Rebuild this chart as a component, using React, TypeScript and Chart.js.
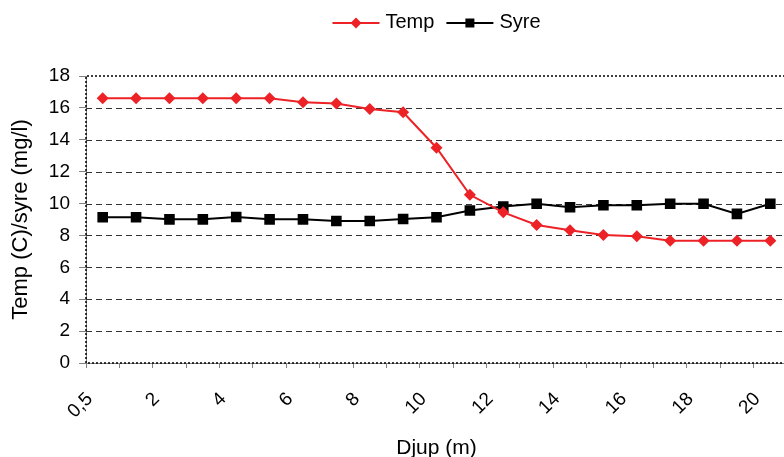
import React, { useEffect, useRef } from 'react';
import { Chart, registerables } from 'chart.js';

Chart.register(...registerables);

const depths = ['0,5', '1', '2', '3', '4', '5', '6', '7', '8', '9', '10', '11', '12', '13', '14', '15', '16', '17', '18', '19', '20'];
const temp = [16.6, 16.6, 16.6, 16.6, 16.6, 16.6, 16.35, 16.27, 15.93, 15.73, 13.5, 10.55, 9.45, 8.66, 8.32, 8.03, 7.95, 7.67, 7.67, 7.67, 7.67];
const syre = [9.14, 9.14, 9.01, 9.01, 9.16, 9.01, 9.01, 8.91, 8.91, 9.03, 9.14, 9.56, 9.81, 9.99, 9.77, 9.89, 9.89, 9.99, 9.99, 9.35, 9.99];

const FONT = "'Liberation Sans', Arial, sans-serif";
const RED = '#ED2227';
const BLACK = '#000000';

const framePlugin = {
  id: 'frame',
  beforeDatasetsDraw(chart: any) {
    const { ctx, chartArea } = chart;
    const y = chart.scales.y;
    const { left, right, top, bottom } = chartArea;
    ctx.save();
    ctx.lineWidth = 1;
    ctx.strokeStyle = '#333';
    ctx.setLineDash([6, 4]);
    y.ticks.forEach((t: any, i: number) => {
      if (i === 0 || i === y.ticks.length - 1) return;
      const py = Math.round(y.getPixelForValue(t.value)) + 0.5;
      ctx.beginPath();
      ctx.moveTo(left, py);
      ctx.lineTo(right, py);
      ctx.stroke();
    });
    ctx.strokeStyle = '#000';
    ctx.lineWidth = 1.5;
    ctx.setLineDash([2, 2]);
    ctx.beginPath();
    ctx.moveTo(left, bottom);
    ctx.lineTo(left, top);
    ctx.lineTo(right, top);
    ctx.lineTo(right, bottom);
    ctx.lineTo(left, bottom);
    ctx.stroke();
    ctx.restore();
  },
};

const legendPlugin = {
  id: 'customLegend',
  afterDraw(chart: any) {
    const { ctx } = chart;
    const items = chart.data.datasets.map((d: any) => ({
      label: d.label,
      color: d.borderColor,
      style: d.pointStyle,
    }));
    ctx.save();
    ctx.font = `20px ${FONT}`;
    ctx.textBaseline = 'middle';
    const lineW = 47;
    const gap = 6;
    const itemGap = 12;
    const widths = items.map((it: any) => lineW + gap + ctx.measureText(it.label).width);
    const total = widths.reduce((a: number, b: number) => a + b, 0) + itemGap * (items.length - 1);
    let x = 436.5 - total / 2;
    const cy = 23;
    items.forEach((it: any, i: number) => {
      ctx.strokeStyle = it.color;
      ctx.fillStyle = it.color;
      ctx.lineWidth = 2;
      ctx.setLineDash([]);
      ctx.beginPath();
      ctx.moveTo(x, cy);
      ctx.lineTo(x + lineW, cy);
      ctx.stroke();
      const mx = x + lineW / 2;
      ctx.beginPath();
      if (it.style === 'rectRot') {
        const r = 5.5;
        ctx.moveTo(mx, cy - r);
        ctx.lineTo(mx + r, cy);
        ctx.lineTo(mx, cy + r);
        ctx.lineTo(mx - r, cy);
        ctx.closePath();
      } else {
        ctx.rect(mx - 4.5, cy - 4.5, 9, 9);
      }
      ctx.fill();
      ctx.fillStyle = '#000';
      ctx.fillText(it.label, x + lineW + gap, cy - 1);
      x += widths[i] + itemGap;
    });
    ctx.restore();
  },
};

export default function App() {
  const ref = useRef<HTMLCanvasElement>(null);
  useEffect(() => {
    if (!ref.current) return;
    const chart = new Chart(ref.current, {
      type: 'line',
      data: {
        labels: depths,
        datasets: [
          {
            label: 'Temp',
            data: temp,
            borderColor: RED,
            backgroundColor: RED,
            borderWidth: 2,
            pointStyle: 'rectRot',
            pointRadius: 6,
            pointBorderWidth: 0,
            tension: 0,
          },
          {
            label: 'Syre',
            data: syre,
            borderColor: BLACK,
            backgroundColor: BLACK,
            borderWidth: 2,
            pointStyle: 'rect',
            pointRadius: 7.5,
            pointBorderWidth: 0,
            tension: 0,
          },
        ],
      },
      options: {
        animation: false,
        responsive: false,
        devicePixelRatio: 1,
        layout: { autoPadding: false, padding: { top: 76, right: 3, left: 0, bottom: 0 } },
        plugins: {
          legend: { display: false },
          tooltip: { enabled: false },
        },
        scales: {
          x: {
            type: 'category',
            offset: true,
            grid: {
              offset: true,
              drawOnChartArea: false,
              drawTicks: true,
              tickLength: 5,
              tickColor: '#808080',
            },
            border: { color: '#808080', width: 1 },
            ticks: {
              autoSkip: false,
              maxRotation: 45,
              minRotation: 45,
              padding: 20,
              labelOffset: -13,
              color: '#000',
              font: { family: FONT, size: 19 },
              callback: (_v: any, i: number) => (i % 2 === 0 ? depths[i] : ''),
            },
            title: {
              display: true,
              text: 'Djup (m)',
              color: '#000',
              font: { family: FONT, size: 21 },
              padding: { top: 0, bottom: -4 },
            },
            afterFit: (s: any) => {
              s.height = 94;
              s.paddingLeft = 0;
              s.paddingRight = 0;
            },
          },
          y: {
            min: 0,
            max: 18,
            ticks: {
              stepSize: 2,
              color: '#000',
              padding: 9,
              font: { family: FONT, size: 19 },
            },
            grid: {
              drawOnChartArea: false,
              drawTicks: true,
              tickLength: 7,
              tickColor: '#808080',
            },
            border: { color: '#808080', width: 1 },
            title: {
              display: true,
              text: 'Temp (C)/syre (mg/l)',
              color: '#000',
              font: { family: FONT, size: 22 },
              padding: { top: 8, bottom: 0 },
            },
            afterFit: (s: any) => {
              s.width = 86;
            },
          },
        },
      },
      plugins: [framePlugin, legendPlugin],
    });
    return () => chart.destroy();
  }, []);
  return (
    <div style={{ position: 'absolute', left: 0, top: 0, width: 784, height: 457, overflow: 'hidden', background: '#fff' }}>
      <canvas ref={ref} width={790} height={457} style={{ display: 'block' }} />
    </div>
  );
}
